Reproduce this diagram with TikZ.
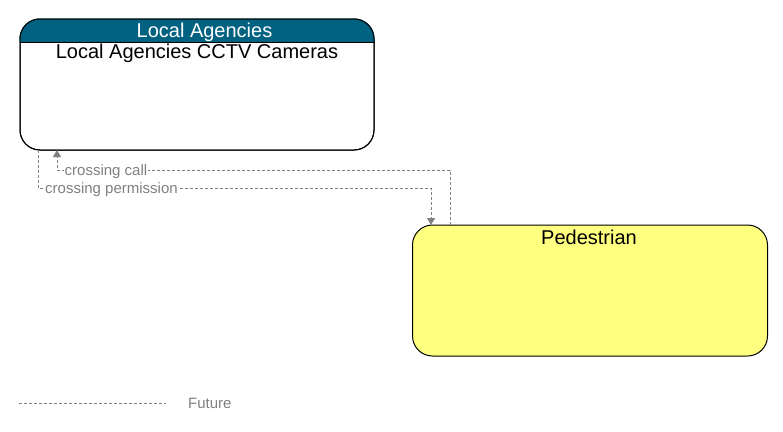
\documentclass[tikz,border=0pt]{standalone}
\usepackage{fontspec}
\setmainfont{Liberation Sans}
\usetikzlibrary{arrows.meta}
\definecolor{hdr}{RGB}{0,98,128}
\definecolor{pedyel}{RGB}{255,255,128}
\definecolor{flowgrey}{RGB}{128,128,128}
\tikzset{
  elembox/.style={draw=black, line width=1pt, rounded corners=20pt, inner sep=0pt},
  titletext/.style={font=\fontsize{20}{24}\selectfont, inner sep=0pt, anchor=base},
  flow/.style={draw=flowgrey, line width=1pt, dash pattern=on 3pt off 2pt},
  flowarrow/.style={flow, -{Triangle[width=8pt,length=7pt]}},
  flowlabel/.style={font=\fontsize{15}{18}\selectfont, text=flowgrey, fill=white, inner sep=1pt, anchor=base},
}
\begin{document}
\begin{tikzpicture}[x=1pt,y=-1pt]
\useasboundingbox (0,0) rectangle (783,431);
% Local Agencies box
\node[elembox, fill=white, minimum width=354pt, minimum height=131pt] (la) at (197,84.5) {};
\fill[hdr] (la.west |- 0,42) [rounded corners=20pt] -- (la.north west) -- (la.north east) [sharp corners] -- (la.east |- 0,42) -- cycle;
\draw[line width=1pt] (la.west |- 0,42) -- (la.east |- 0,42);
\node[elembox, minimum width=354pt, minimum height=131pt] (laframe) at (197,84.5) {};
\node[titletext, text=white] (lahdr) at (204.5,37.5) {Local Agencies};
\node[titletext] (latitle) at (197,58.3) {Local Agencies CCTV Cameras};
% Pedestrian box
\node[elembox, fill=pedyel, minimum width=355pt, minimum height=131pt] (ped) at (590,290.5) {};
\node[titletext] (pedtitle) at (589,244.5) {Pedestrian};
% connectors
\coordinate (callstart) at (450,225);
\coordinate (callend) at (57,150);
\coordinate (permstart) at (38,150);
\coordinate (permend) at (431,225);
\draw[flowarrow] (callstart) |- (57,170) -- (callend);
\draw[flowarrow] (permstart) |- (431,188) -- (permend);
\node[flowlabel] (calllbl) at (106,175.5) {crossing call};
\node[flowlabel] (permlbl) at (111.5,193.5) {crossing permission};
% legend
\coordinate (legA) at (19,403);
\coordinate (legB) at (166,403);
\draw[flow] (legA) -- (legB);
\node[font=\fontsize{15}{18}\selectfont, text=flowgrey, inner sep=0pt, anchor=base west] (legtext) at (188,408.5) {Future};
\end{tikzpicture}
\end{document}
